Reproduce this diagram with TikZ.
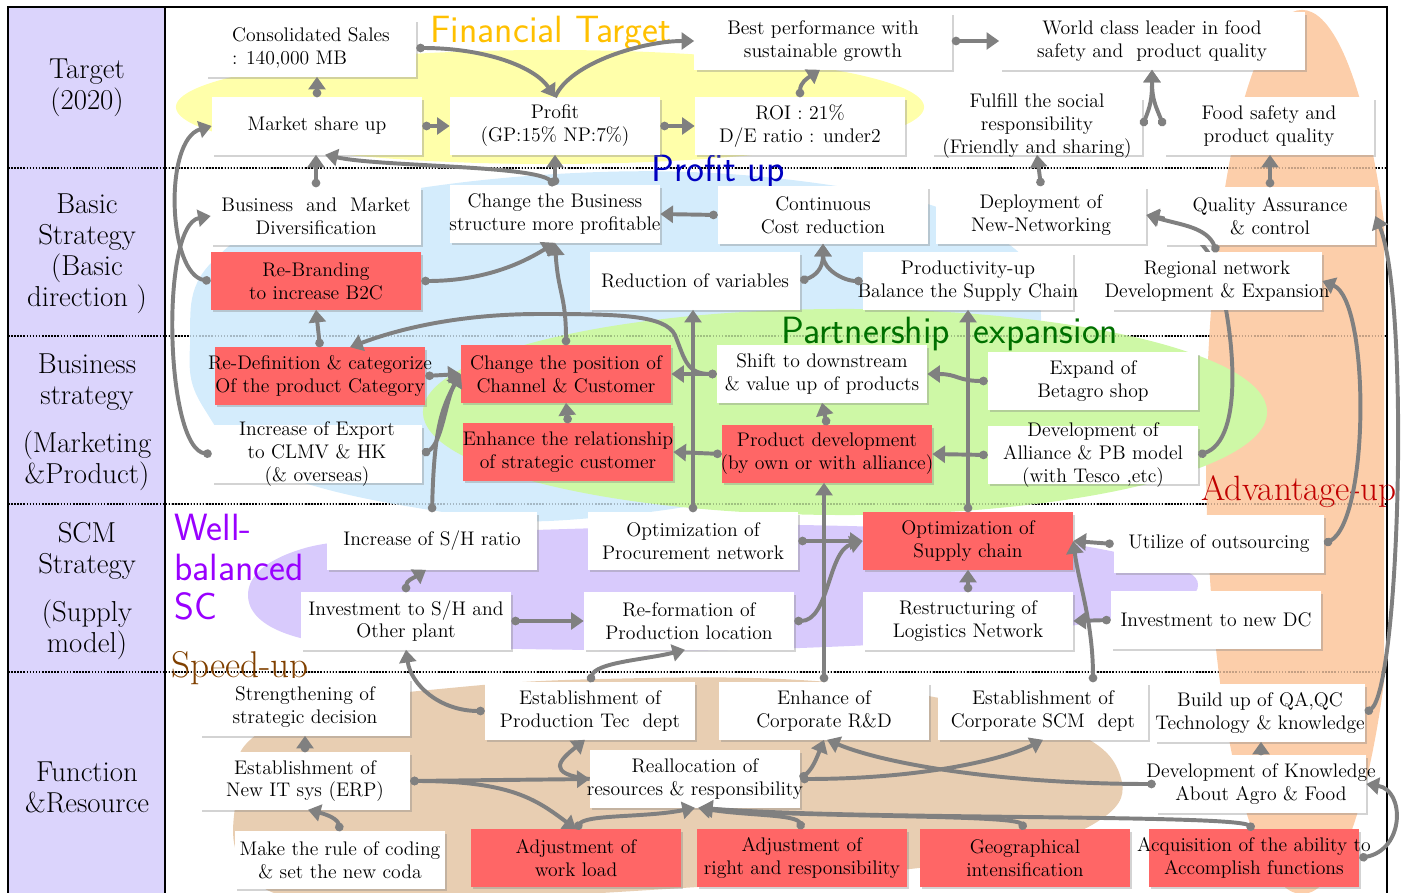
\documentclass[tikz,border=0pt]{standalone}
\usepackage{fontspec}
\usetikzlibrary{arrows.meta,calc,shadows}

\definecolor{colbg}{RGB}{219,212,252}
\definecolor{boxred}{RGB}{255,102,102}
\definecolor{linkgray}{RGB}{128,128,128}
\definecolor{blobyellow}{RGB}{255,255,170}
\definecolor{blobblue}{RGB}{212,236,252}
\definecolor{blobgreen}{RGB}{206,248,166}
\definecolor{blobpurple}{RGB}{216,202,252}
\definecolor{blobtan}{RGB}{232,206,178}
\definecolor{blobpeach}{RGB}{252,206,170}
\definecolor{fingold}{RGB}{255,192,0}
\definecolor{profitblue}{RGB}{0,0,192}
\definecolor{partgreen}{RGB}{0,112,0}
\definecolor{advred}{RGB}{192,0,0}
\definecolor{wellviolet}{RGB}{153,0,255}
\definecolor{speedbrown}{RGB}{128,64,0}

\pgfdeclarelayer{back}
\pgfdeclarelayer{mid}
\pgfsetlayers{back,mid,main}

\begin{document}
\begin{tikzpicture}[x=0.025cm, y=-0.025cm,
        box/.style={fill=white, minimum width=5.25cm, minimum height=1.425cm,
            inner xsep=-12pt, inner ysep=-6pt, align=center,
            font=\fontsize{14}{16.3}\selectfont,
            drop shadow={shadow xshift=1.6pt, shadow yshift=-1.6pt, opacity=0.35}},
        redbox/.style={box, fill=boxred},
        rowlabel/.style={align=center, inner sep=0pt, font=\fontsize{20.5}{22}\selectfont},
        grouplabel/.style={inner sep=0pt, font=\sffamily\fontsize{27}{28}\selectfont},
        serlabel/.style={inner sep=0pt, font=\fontsize{26.5}{28}\selectfont},
        link/.style={draw=linkgray, line width=2.8pt,
            {Circle[length=6pt]}-{Triangle[length=9pt,width=12pt]}},
        linkhead/.style={link, -{Triangle[length=9pt,width=12pt]}},
        rowsep/.style={line width=1.1pt, dash pattern=on 1.1pt off 1.1pt}]

    \useasboundingbox (0,0) rectangle (1401,893);

    \begin{pgfonlayer}{back}
        % frame and row separators
        \fill[colbg] (8,7) rectangle (165,893);
        \foreach \r in {168,336,504,672} {
            \draw[rowsep] (8,\r) -- (1387,\r);
        }

        % coloured areas
        \begin{scope}
            \clip (1100,0) rectangle (1384,893);
            \fill[blobpeach] (1302,452) ellipse [x radius=2.4cm, y radius=11.05cm];
        \end{scope}
        \fill[blobyellow] (550,107) ellipse [x radius=9.35cm, y radius=1.425cm];
        \fill[blobblue] plot[smooth cycle, tension=0.7] coordinates {(190,345) (212,262) (330,205)
            (600,172) (850,188) (990,232) (1040,300) (1000,390) (800,480) (580,519) (430,510)
            (270,470) (205,410)};
        \fill[blobgreen] (845,412) ellipse [x radius=10.55cm, y radius=2.575cm];
        \fill[blobpurple] plot[smooth cycle, tension=0.7] coordinates {(248,595) (290,553)
            (400,537) (600,528) (800,525) (1000,535) (1150,560) (1198,585) (1150,610)
            (1000,635) (800,648) (600,650) (400,645) (290,635)};
        \fill[blobtan] plot[smooth cycle, tension=0.7] coordinates {(237,790) (250,740)
            (330,705) (450,688) (600,679) (800,680) (950,700) (1070,730) (1120,775)
            (1100,820) (1000,855) (850,875) (650,890) (450,900) (300,900) (240,860)};

        \foreach \r in {168,336,504,672} {
            \draw[rowsep, draw opacity=0.22] (165,\r) -- (1387,\r);
        }
        \draw[line width=1.4pt] (8,893) -- (8,7) -- (1387,7) -- (1387,893);
        \draw[line width=1.8pt] (165,7) -- (165,893);

        % row titles
        \node[rowlabel] (lbltarget) at (87,88) {Target\\(2020)};
        \node[rowlabel] (lblbasic) at (87,254) {Basic\\Strategy\\(Basic\\direction )};
        \node[rowlabel] (lblbiz) at (87,422) {Business\\strategy\\[12pt](Marketing\\\&Product)};
        \node[rowlabel] (lblscm) at (87,591) {SCM\\Strategy\\[12pt](Supply\\model)};
        \node[rowlabel] (lblfunc) at (87,787) {Function\\\&Resource};

        % area titles
        \node[grouplabel, text=fingold] (fintarget) at (551,33) {Financial Target};
        \node[grouplabel, text=profitblue] (profitup) at (718,172) {Profit up};
        \node[grouplabel, text=partgreen] (partner) at (950,334) {Partnership\ \ expansion};
        \node[grouplabel, text=wellviolet, anchor=north west, align=left] (wellbal) at (174,514) {Well-\\balanced\\SC};
        \node[serlabel, anchor=west, text=advred, font=\fontsize{25}{28}\selectfont] (advup) at (1201,492) {Advantage-up};
        \node[serlabel, anchor=west, text=speedbrown] (speedup) at (171,668) {Speed-up};
    \end{pgfonlayer}

    % target
    \node[box, align=left] (sales) at (311,48) {Consolidated Sales\\: 140,000 MB};
    \node[box] (mshare) at (317,126) {Market share up};
    \node[box] (profit) at (555,126) {Profit\\(GP:15\% NP:7\%)};
    \node[box] (roi) at (800,126) {ROI : 21\%\\D/E ratio : under2};
    \node[box, minimum width=6.425cm] (best) at (823,41) {Best performance with\\sustainable growth};
    \node[box, minimum width=7.625cm] (world) at (1152,41) {World class leader in food\\safety and\ \ product quality};
    \node[box] (fulfill) at (1037,126) {Fulfill the social\\responsibility\\(Friendly and sharing)};
    \node[box] (food) at (1269,126) {Food safety and\\product quality};

    % basic strategy
    \node[box] (bizdiv) at (316,216) {Business\ \ and\ \ Market\\Diversification};
    \node[box] (change) at (555,214) {Change the Business\\structure more profitable};
    \node[redbox] (rebrand) at (316,281) {Re-Branding\\to increase B2C};
    \node[box] (reduce) at (695,281) {Reduction of variables};
    \node[box] (costred) at (823,215) {Continuous\\Cost reduction};
    \node[box] (deploy) at (1041,215) {Deployment of\\New-Networking};
    \node[box] (qa) at (1270,216) {Quality Assurance\\\& control};
    \node[box] (prod) at (968,281) {Productivity-up\\Balance the Supply Chain};
    \node[box] (region) at (1217,281) {Regional network\\Development \& Expansion};

    % business strategy
    \node[redbox] (redef) at (320,376) {Re-Definition \& categorize\\Of the product Category};
    \node[box] (export) at (317,454) {Increase of Export\\to CLMV \& HK\\(\& overseas)};
    \node[redbox] (chpos) at (566,374) {Change the position of\\Channel \& Customer};
    \node[redbox] (enhrel) at (568,452) {Enhance the relationship\\of strategic customer};
    \node[box] (shift) at (822,374) {Shift to downstream\\\& value up of products};
    \node[redbox] (proddev) at (827,454) {Product development\\(by own or with alliance)};
    \node[box] (expand) at (1093,381) {Expand of\\Betagro shop};
    \node[box] (alliance) at (1093,455) {Development of\\Alliance \& PB model\\(with Tesco ,etc)};

    % scm strategy
    \node[box] (shratio) at (432,541) {Increase of S/H ratio};
    \node[box] (procure) at (693,541) {Optimization of\\Procurement network};
    \node[redbox] (supply) at (968,541) {Optimization of\\Supply chain};
    \node[box] (outsrc) at (1219,544) {Utilize of outsourcing};
    \node[box] (invsh) at (406,621) {Investment to S/H and\\Other plant};
    \node[box] (reform) at (689,621) {Re-formation of\\Production location};
    \node[box] (restruct) at (968,621) {Restructuring of\\Logistics Network};
    \node[box] (newdc) at (1216,620) {Investment to new DC};

    % function and resource
    \node[box] (strength) at (305,707) {Strengthening of\\strategic decision};
    \node[box] (erp) at (305,781) {Establishment of\\New IT sys (ERP)};
    \node[box] (coding) at (340,860) {Make the rule of coding\\\& set the new coda};
    \node[box] (prodtec) at (590,711) {Establishment of\\Production Tec\ \ dept};
    \node[box] (realloc) at (695,779) {Reallocation of\\resources \& responsibility};
    \node[redbox] (workload) at (576,858) {Adjustment of\\work load};
    \node[box] (rnd) at (824,711) {Enhance of\\Corporate R\&D};
    \node[box] (scmdept) at (1043,711) {Establishment of\\Corporate SCM\ \ dept};
    \node[box] (qaqc) at (1260,713) {Build up of QA,QC\\Technology \& knowledge};
    \node[box] (knowledge) at (1261,784) {Development of Knowledge\\About Agro \& Food};
    \node[redbox] (rights) at (802,858) {Adjustment of\\right and responsibility};
    \node[redbox] (geo) at (1025,858) {Geographical\\intensification};
    \node[redbox] (acquire) at (1254,858) {Acquisition of the ability to\\Accomplish functions};

    % target links
    \draw[link] (mshare.north) -- (mshare.north |- sales.south);
    \draw[link] (sales.east) .. controls +(70,0) and +(-20,-30) .. (profit.north);
    \draw[linkhead] (profit.north) .. controls +(15,-35) and +(-50,0) .. (best.west);
    \draw[link] (mshare.east) -- (profit.west);
    \draw[link] (profit.east) -- (roi.west);
    \draw[link] (roi.north) .. controls +(0,-15) and +(-12,8) .. ($(best.south)+(-3,0)$);
    \draw[link] (best.east) -- (world.west);
    \draw[link] (fulfill.east) .. controls +(8,-20) and +(0,30) .. (world.south);
    \draw[link] (food.west) .. controls +(-8,-20) and +(0,30) .. (world.south);

    % basic strategy links
    \draw[link] (bizdiv.north) -- (bizdiv.north |- mshare.south);
    \draw[link] (change.north) -- (change.north |- profit.south);
    \draw[link] (change.north) .. controls +(-20,-20) and +(55,12) .. ($(mshare.south)+(8,0)$);
    \draw[link] (rebrand.west) .. controls (168,275) and (163,140) .. (mshare.west);
    \draw[link] (export.west) .. controls (165,450) and (160,225) .. (bizdiv.west);
    \draw[link] (rebrand.east) .. controls +(55,0) and +(-40,25) .. (change.south);
    \draw[link] (chpos.north) .. controls +(0,-50) and +(3,50) .. (change.south);
    \draw[link] (costred.west) -- (change.east);
    \draw[link] (reduce.east) .. controls +(15,-5) and +(0,25) .. (costred.south);
    \draw[link] (prod.west) .. controls +(-20,0) and +(0,25) .. (costred.south);
    \draw[link] (deploy.north) -- (fulfill.south);
    \draw[link] (qa.north) -- (qa.north |- food.south);
    \draw[link] (region.north) .. controls +(-10,-25) and +(35,10) .. (deploy.east);

    % business strategy links
    \draw[link] (redef.north) -- (rebrand.south);
    \draw[link] (shift.west) .. controls +(-30,0) and +(10,25) .. (675,335)
        .. controls +(-10,-20) and +(80,0) .. (540,314)
        .. controls +(-90,0) and +(40,-15) .. ($(redef.north)+(30,0)$);
    \draw[link] (shift.west) -- (chpos.east);
    \draw[link] (redef.east) -- (chpos.west);
    \draw[link] (export.east) .. controls +(20,-10) and +(-15,25) .. (chpos.west);
    \draw[link] (shratio.north) .. controls +(2,-80) and +(-20,35) .. (chpos.west);
    \draw[link] (enhrel.north) -- (chpos.south);
    \draw[link] (proddev.west) -- (enhrel.east);
    \draw[link] (proddev.north) -- (shift.south);
    \draw[link] (expand.west) .. controls +(-30,0) and +(30,0) .. (shift.east);
    \draw[link] (alliance.west) -- (proddev.east);
    \draw[link] (outsrc.east) .. controls (1370,520) and (1370,300) .. (region.east);
    \draw[link] (qaqc.east) .. controls (1400,690) and (1410,300) .. (qa.east);
    \draw[link] (acquire.east) .. controls (1405,850) and (1405,790) .. (knowledge.east);
    \begin{pgfonlayer}{mid}
        \draw[link] (alliance.east) .. controls (1245,440) and (1235,330) .. (1215,262)
            .. controls (1200,240) and (1185,222) .. (deploy.east);
    \end{pgfonlayer}

    % scm links
    \draw[link] (procure.north) -- (procure.north |- reduce.south);
    \draw[link] (supply.north) -- (prod.south);
    \draw[link] (invsh.north) .. controls +(0,-12) and +(-12,8) .. ($(shratio.south)+(-6,0)$);
    \draw[link] (invsh.east) -- (reform.west);
    \draw[link] (procure.east) -- (supply.west);
    \draw[link] (reform.east) .. controls +(35,0) and +(-35,10) .. (supply.west);
    \draw[link] (restruct.north) -- (supply.south);
    \draw[link] (outsrc.west) -- (supply.east);
    \draw[link] (newdc.west) -- (restruct.east);

    % function links
    \draw[link] (prodtec.west) .. controls +(-45,0) and +(5,35) .. (invsh.south);
    \draw[link] (prodtec.north) .. controls +(5,-20) and +(-40,10) .. ($(reform.south)+(-4,0)$);
    \draw[link] (rnd.north) -- (rnd.north |- proddev.south);
    \draw[link] ($(scmdept.north)+(50,0)$) .. controls +(0,-60) and +(5,40) .. (supply.east);
    \draw[link] (erp.north) -- (strength.south);
    \draw[link] (coding.north) .. controls +(-2,-12) and +(20,5) .. ($(erp.south)+(3,0)$);
    \draw[link] (erp.east) -- (realloc.west);
    \draw[link] (erp.east) .. controls +(100,0) and +(-40,-30) .. (workload.north);
    \draw[linkhead] (realloc.west) .. controls +(-45,-5) and +(-25,20) .. ($(prodtec.south)+(-5,0)$);
    \draw[link] (workload.north) .. controls +(10,-15) and +(-50,10) .. (realloc.south);
    \draw[link] (rights.north) .. controls +(-5,-15) and +(50,8) .. ($(realloc.south)+(3,0)$);
    \draw[link] (geo.north) .. controls +(-10,-15) and +(100,10) .. ($(realloc.south)+(5,0)$);
    \draw[link] (acquire.north) .. controls +(-20,-15) and +(150,12) .. ($(realloc.south)+(5,0)$);
    \draw[link] (realloc.east) .. controls +(12,-10) and +(-8,20) .. (rnd.south);
    \draw[link] (realloc.east) .. controls +(120,0) and +(-40,20) .. (scmdept.south);
    \draw[link] (knowledge.west) .. controls +(-150,0) and +(60,25) .. ($(rnd.south)+(3,0)$);
    \draw[link] (knowledge.north) -- (knowledge.north |- qaqc.south);

\end{tikzpicture}
\end{document}
